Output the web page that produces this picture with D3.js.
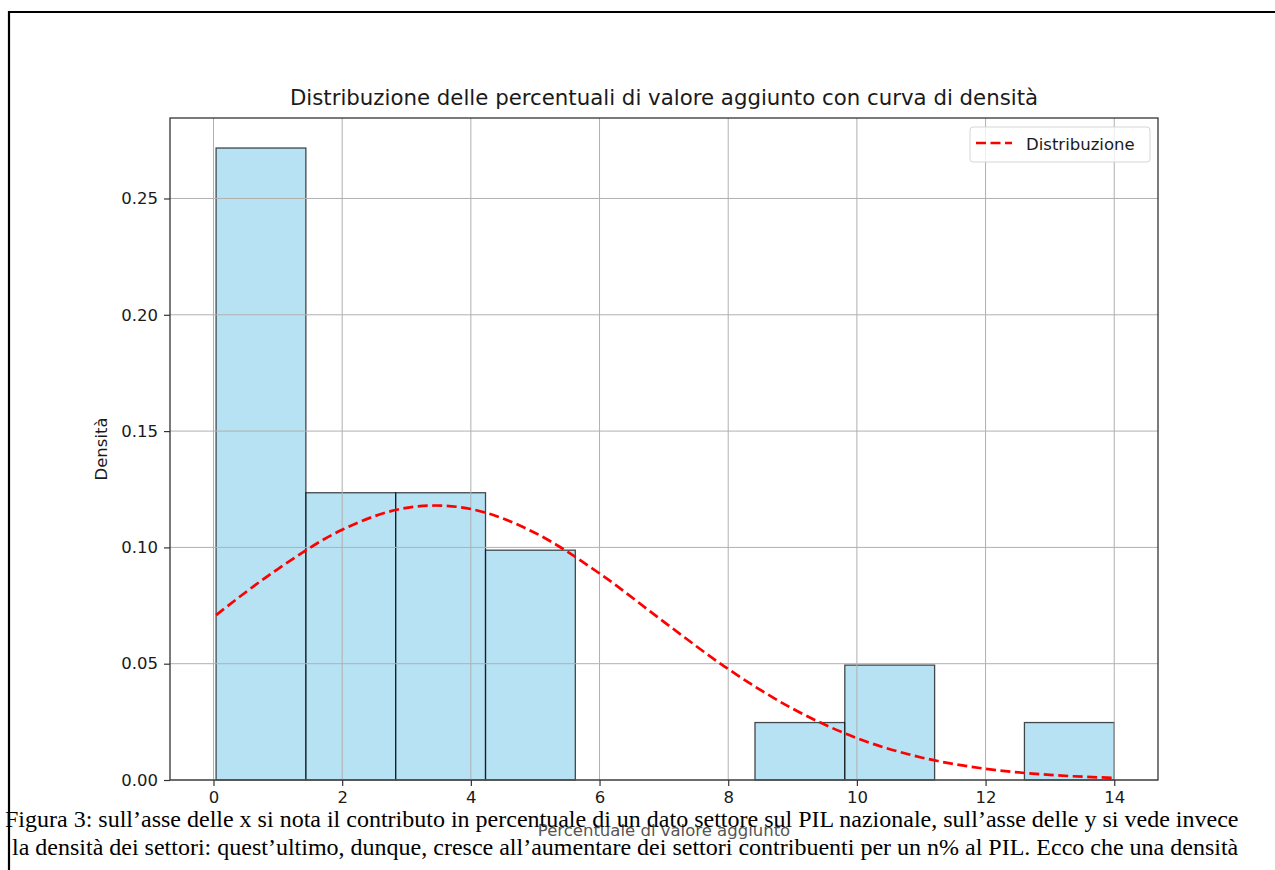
<!DOCTYPE html>
<html>
<head>
<meta charset="utf-8">
<script src="https://cdn.jsdelivr.net/npm/d3@7"></script>
<style>
  body { margin: 0; background: #fff; }
  svg { display: block; }
</style>
</head>
<body>
<div id="chart"></div>
<script>
// histogram bins (edges) and density per bin
var binEdges = [0.04, 1.436, 2.832, 4.228, 5.624, 7.02, 8.416, 9.812, 11.208, 12.604, 14.0];
var densities = [0.2717, 0.1235, 0.1235, 0.0988, 0, 0, 0.0247, 0.0494, 0, 0.0247];

// points along the red dashed density curve
var curveX = [0.04, 1, 2, 3, 3.45, 4, 5, 6, 7, 8, 9, 10, 11, 12, 13, 14];
var curveY = [0.0709, 0.0907, 0.1076, 0.117, 0.118, 0.1165, 0.1062, 0.0888, 0.068, 0.0477, 0.0307, 0.018, 0.0097, 0.0048, 0.0022, 0.0009];

var xTicks = [0, 2, 4, 6, 8, 10, 12, 14];
var yTicks = [0.00, 0.05, 0.10, 0.15, 0.20, 0.25];

var titleText = "Distribuzione delle percentuali di valore aggiunto con curva di densità";
var xLabel = "Percentuale di valore aggiunto";
var yLabel = "Densità";
var legendLabel = "Distribuzione";
var captionLines = [
    "Figura 3: sull\u2019asse delle x si nota il contributo in percentuale di un dato settore sul PIL nazionale, sull\u2019asse delle y si vede invece",
    "la densità dei settori: quest\u2019ultimo, dunque, cresce all\u2019aumentare dei settori contribuenti per un n% al PIL. Ecco che una densità"
];

var svgWidth = 1275, svgHeight = 870;
// plot area (window.top is reserved, so no plain "top")
var plotLeft = 170, plotRight = 1158, plotTop = 118, plotBottom = 780;

var svg = d3.select("#chart").append("svg")
    .attr("width", svgWidth)
    .attr("height", svgHeight)
    .style("font-family", "'DejaVu Sans', sans-serif");

// document frame (top and left edges)
svg.append("path")
    .attr("d", "M9,870 L9,12 L1275,12")
    .attr("fill", "none")
    .attr("stroke", "#000")
    .attr("stroke-width", 2.2);

var x = d3.scaleLinear().domain([-0.676, 14.68]).range([plotLeft, plotRight]);
var y = d3.scaleLinear().domain([0, 0.2846]).range([plotBottom, plotTop]);

var bins = densities.map(function(d, i) {
    return {x0: binEdges[i], x1: binEdges[i + 1], d: d};
});

// bars
svg.append("g").selectAll("rect")
    .data(bins.filter(function(b) { return b.d > 0; }))
    .enter().append("rect")
        .attr("x", function(b) { return x(b.x0); })
        .attr("width", function(b) { return x(b.x1) - x(b.x0); })
        .attr("y", function(b) { return y(b.d); })
        .attr("height", function(b) { return y(0) - y(b.d); })
        .attr("fill", "skyblue")
        .attr("fill-opacity", 0.6)
        .attr("stroke", "#000")
        .attr("stroke-opacity", 0.7)
        .attr("stroke-width", 1.3);

// grid
var grid = svg.append("g").attr("stroke", "#b0b0b0").attr("stroke-width", 1);
grid.selectAll("line.gx")
    .data(xTicks)
    .enter().append("line")
        .attr("class", "gx")
        .attr("x1", function(d) { return x(d); })
        .attr("x2", function(d) { return x(d); })
        .attr("y1", plotTop)
        .attr("y2", plotBottom);
grid.selectAll("line.gy")
    .data(yTicks)
    .enter().append("line")
        .attr("class", "gy")
        .attr("x1", plotLeft)
        .attr("x2", plotRight)
        .attr("y1", function(d) { return y(d); })
        .attr("y2", function(d) { return y(d); });

// density curve
var line = d3.line()
    .x(function(d) { return x(d[0]); })
    .y(function(d) { return y(d[1]); })
    .curve(d3.curveMonotoneX);

svg.append("path")
    .datum(curveX.map(function(v, i) { return [v, curveY[i]]; }))
    .attr("fill", "none")
    .attr("stroke", "red")
    .attr("stroke-width", 2.7)
    .attr("stroke-dasharray", "10,4.5")
    .attr("d", line);

// axes
var xAxis = svg.append("g")
    .attr("transform", "translate(0," + plotBottom + ")")
    .call(d3.axisBottom(x).tickValues(xTicks).tickSize(6).tickPadding(5).tickFormat(d3.format("d")));
var yAxis = svg.append("g")
    .attr("transform", "translate(" + plotLeft + ",0)")
    .call(d3.axisLeft(y).tickValues(yTicks).tickSize(6).tickPadding(6).tickFormat(d3.format(".2f")));

[xAxis, yAxis].forEach(function(a) {
    a.select(".domain").remove();
    a.selectAll("text").attr("font-size", "16.5px").attr("fill", "#1a1a1a").style("font-family", "'DejaVu Sans', sans-serif");
    a.selectAll("line").attr("stroke", "#333").attr("stroke-width", 1.2);
});

svg.append("rect")
    .attr("x", plotLeft).attr("y", plotTop)
    .attr("width", plotRight - plotLeft).attr("height", plotBottom - plotTop)
    .attr("fill", "none")
    .attr("stroke", "#333")
    .attr("stroke-width", 1.3);

// title and axis labels
svg.append("text")
    .attr("x", (plotLeft + plotRight) / 2)
    .attr("y", 105)
    .attr("text-anchor", "middle")
    .attr("font-size", "21.3px")
    .attr("fill", "#1a1a1a")
    .text(titleText);

svg.append("text")
    .attr("transform", "translate(107," + ((plotTop + plotBottom) / 2) + ") rotate(-90)")
    .attr("text-anchor", "middle")
    .attr("font-size", "16.5px")
    .attr("fill", "#1a1a1a")
    .text(yLabel);

svg.append("text")
    .attr("x", (plotLeft + plotRight) / 2)
    .attr("y", 836)
    .attr("text-anchor", "middle")
    .attr("font-size", "16.5px")
    .attr("fill", "#555")
    .text(xLabel);

// legend
var legend = svg.append("g");
legend.append("rect")
    .attr("x", 970).attr("y", 127)
    .attr("width", 180).attr("height", 35)
    .attr("rx", 3)
    .attr("fill", "#fff").attr("fill-opacity", 0.8)
    .attr("stroke", "#d5d5d5");
legend.append("line")
    .attr("x1", 976).attr("x2", 1012)
    .attr("y1", 143).attr("y2", 143)
    .attr("stroke", "red")
    .attr("stroke-width", 2.7)
    .attr("stroke-dasharray", "10,4.5");
legend.append("text")
    .attr("x", 1026).attr("y", 150)
    .attr("font-size", "16.5px")
    .attr("fill", "#1a1a1a")
    .text(legendLabel);

// caption in the document text, on top of the chart
svg.selectAll("text.caption")
    .data(captionLines)
    .enter().append("text")
        .attr("class", "caption")
        .attr("x", function(d, i) { return i === 0 ? 5 : 12; })
        .attr("y", function(d, i) { return 827 + i * 28; })
        .attr("font-size", "24px")
        .attr("fill", "#000")
        .style("font-family", "'Liberation Serif', 'Times New Roman', serif")
        .text(function(d) { return d; });
</script>
</body>
</html>
